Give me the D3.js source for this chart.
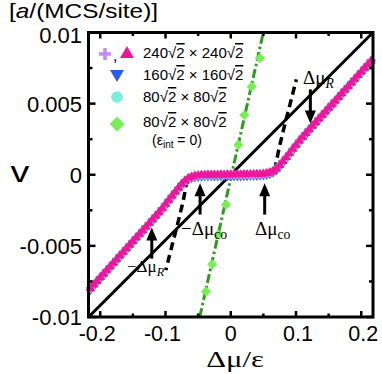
<!DOCTYPE html>
<html><head><meta charset="utf-8">
<script src="https://cdn.jsdelivr.net/npm/d3@7"></script>
<style>
body{margin:0;background:#fff;}
svg{display:block;}
text{font-family:"Liberation Sans",Arial,sans-serif;fill:#000;}
.serif{font-family:"Liberation Serif","Times New Roman",serif;}
</style></head><body>
<svg id="c" width="382" height="374"></svg>
<script>
// ---- data ----
const xTicksMajor = [-0.2, -0.1, 0, 0.1, 0.2];
const xTicksMinor = [-0.15, -0.05, 0.05, 0.15];
const yTicksMajor = [-0.01, -0.005, 0, 0.005, 0.01];
const yTicksMinor = [-0.0075, -0.0025, 0.0025, 0.0075];
const xTickLabels = ["-0.2", "-0.1", "0", "0.1", "0.2"];
const yTickLabels = ["-0.01", "-0.005", "0", "0.005", "0.01"];

const dmu = [-0.215,-0.21,-0.205,-0.2,-0.195,-0.19,-0.185,-0.18,-0.175,-0.17,-0.165,-0.16,-0.155,-0.15,-0.145,-0.14,-0.135,-0.13,-0.125,-0.12,-0.115,-0.11,-0.105,-0.1,-0.095,-0.09,-0.085,-0.08,-0.075,-0.07,-0.065,-0.06,-0.055,-0.05,-0.045,-0.04,-0.035,-0.03,-0.025,-0.02,-0.015,-0.01,-0.005,0,0.005,0.01,0.015,0.02,0.025,0.03,0.035,0.04,0.045,0.05,0.055,0.06,0.065,0.07,0.075,0.08,0.085,0.09,0.095,0.1,0.105,0.11,0.115,0.12,0.125,0.13,0.135,0.14,0.145,0.15,0.155,0.16,0.165,0.17,0.175,0.18,0.185,0.19,0.195,0.2,0.205,0.21,0.215];

const v240 = [-0.00800,-0.00774,-0.00749,-0.00723,-0.00698,-0.00672,-0.00647,-0.00621,-0.00596,-0.00570,-0.00545,-0.00519,-0.00494,-0.00469,-0.00443,-0.00418,-0.00393,-0.00367,-0.00342,-0.00316,-0.00290,-0.00264,-0.00237,-0.00208,-0.00179,-0.00150,-0.00121,-0.00093,-0.00066,-0.00042,-0.00025,-0.00015,-0.00009,-0.00006,-0.00004,-0.00003,-0.00002,-0.00002,-0.00001,-0.00001,0,-0.00001,0,0,0,0.00001,0,0.00001,0.00001,0.00002,0.00002,0.00003,0.00004,0.00006,0.00009,0.00015,0.00025,0.00042,0.00066,0.00093,0.00121,0.00150,0.00179,0.00208,0.00237,0.00264,0.00290,0.00316,0.00342,0.00367,0.00393,0.00418,0.00443,0.00469,0.00494,0.00519,0.00545,0.00570,0.00596,0.00621,0.00647,0.00672,0.00698,0.00723,0.00749,0.00774,0.00800];
const v240plus = [-0.00802,-0.00776,-0.00750,-0.00724,-0.00699,-0.00673,-0.00648,-0.00622,-0.00597,-0.00571,-0.00546,-0.00520,-0.00495,-0.00470,-0.00444,-0.00419,-0.00394,-0.00368,-0.00343,-0.00317,-0.00291,-0.00265,-0.00238,-0.00209,-0.00180,-0.00151,-0.00122,-0.00094,-0.00067,-0.00043,-0.00026,-0.00016,-0.00010,-0.00006,-0.00004,-0.00003,-0.00002,-0.00002,-0.00001,-0.00001,0,0,0,0,0,0,0,0.00001,0.00001,0.00002,0.00002,0.00003,0.00004,0.00006,0.00010,0.00016,0.00026,0.00043,0.00067,0.00094,0.00122,0.00151,0.00180,0.00209,0.00238,0.00265,0.00291,0.00317,0.00343,0.00368,0.00394,0.00419,0.00444,0.00470,0.00495,0.00520,0.00546,0.00571,0.00597,0.00622,0.00648,0.00673,0.00699,0.00724,0.00750,0.00776,0.00802];
const v160 = [-0.00806,-0.00780,-0.00755,-0.00729,-0.00704,-0.00678,-0.00653,-0.00627,-0.00602,-0.00576,-0.00551,-0.00525,-0.00500,-0.00475,-0.00449,-0.00424,-0.00399,-0.00373,-0.00348,-0.00322,-0.00296,-0.00270,-0.00243,-0.00214,-0.00185,-0.00156,-0.00127,-0.00099,-0.00072,-0.00047,-0.00030,-0.00019,-0.00013,-0.00010,-0.00008,-0.00007,-0.00006,-0.00006,-0.00006,-0.00006,-0.00006,-0.00006,-0.00006,-0.00006,-0.00006,-0.00006,-0.00006,-0.00005,-0.00005,-0.00004,-0.00004,-0.00003,-0.00002,0,0.00003,0.00009,0.00019,0.00036,0.00060,0.00087,0.00115,0.00144,0.00173,0.00202,0.00231,0.00258,0.00284,0.00310,0.00336,0.00361,0.00387,0.00412,0.00437,0.00463,0.00488,0.00513,0.00539,0.00564,0.00590,0.00615,0.00641,0.00666,0.00692,0.00717,0.00743,0.00768,0.00794];
const v80 = [-0.00803,-0.00777,-0.00752,-0.00726,-0.00701,-0.00675,-0.00650,-0.00624,-0.00599,-0.00573,-0.00548,-0.00522,-0.00497,-0.00472,-0.00446,-0.00421,-0.00396,-0.00370,-0.00345,-0.00319,-0.00293,-0.00267,-0.00240,-0.00211,-0.00182,-0.00153,-0.00124,-0.00096,-0.00069,-0.00045,-0.00028,-0.00017,-0.00011,-0.00008,-0.00006,-0.00005,-0.00004,-0.00004,-0.00003,-0.00003,-0.00003,-0.00003,-0.00003,-0.00003,-0.00003,-0.00002,-0.00002,-0.00002,-0.00002,0,0,0.00001,0.00002,0.00004,0.00007,0.00013,0.00023,0.00040,0.00063,0.00090,0.00118,0.00147,0.00176,0.00205,0.00234,0.00261,0.00288,0.00314,0.00340,0.00365,0.00391,0.00416,0.00441,0.00467,0.00492,0.00517,0.00543,0.00568,0.00594,0.00619,0.00645,0.00670,0.00696,0.00721,0.00747,0.00772,0.00798];

// eps_int = 0 (green diamonds) and its fitted line
const dmuNoInt = [-0.0379,-0.0283,-0.019,-0.0073,0.0021,0.0116,0.0208,0.0321,0.0448];
const vNoInt   = [-0.0082,-0.0063,-0.0042,-0.0021,0,0.0021,0.0042,0.0062,0.0082];
const dmuNoIntLine = [-0.0475,0.0499];
const vNoIntLine   = [-0.0100,0.0100];

// solid black reference line
const dmuRef = [-0.218, 0.218];
const vRef   = [-0.0100, 0.0100];

// dashed black curves
const dmuDashR = [0.0675,0.072,0.080,0.090,0.1005];
const vDashR   = [0.0003,0.0014,0.0030,0.0048,0.0067];
const dmuDashL = [-0.0670,-0.071,-0.079,-0.089,-0.0995];
const vDashL   = [-0.0003,-0.0014,-0.0030,-0.0048,-0.0067];

// arrows: [dmu, v tail, v tip]
const arrowsDmu  = [0.122, -0.121, -0.047, 0.052];
const arrowsTail = [0.0060, -0.0059, -0.0028, -0.0028];
const arrowsTip  = [0.0036, -0.0037, -0.0006, -0.0006];

// ---- drawing ----
const svg = d3.select("#c");
const L = 88.5, R = 373, T = 32.5, B = 317;
const x = d3.scaleLinear().domain([-0.218, 0.218]).range([L, R]);
const y = d3.scaleLinear().domain([-0.01, 0.01]).range([B, T]);

svg.append("clipPath").attr("id","clp").append("rect")
  .attr("x",L).attr("y",T).attr("width",R-L).attr("height",B-T);

const plot = svg.append("g").attr("clip-path","url(#clp)");

const line = d3.line().x(d=>x(d[0])).y(d=>y(d[1]));
const zip = (a,b)=>a.map((d,i)=>[d,b[i]]);

// solid black line
plot.append("path").attr("d", line(zip(dmuRef,vRef)))
  .attr("stroke","#000").attr("stroke-width",3).attr("fill","none");

// green dash-dot line
plot.append("path").attr("d", line(zip(dmuNoIntLine,vNoIntLine)))
  .attr("stroke","#2f9a1f").attr("stroke-width",3).attr("fill","none")
  .attr("stroke-dasharray","9,3,2.5,3");

// dashed black curves
[zip(dmuDashR,vDashR), zip(dmuDashL,vDashL)].forEach(pts=>{
  plot.append("path").attr("d", d3.line().curve(d3.curveMonotoneX).x(d=>x(d[0])).y(d=>y(d[1]))(pts))
    .attr("stroke","#000").attr("stroke-width",3.5).attr("fill","none")
    .attr("stroke-dasharray","8,5");
});

// green diamonds
const sym = (type,size)=>d3.symbol().type(type).size(size)();
plot.selectAll(".dia").data(zip(dmuNoInt,vNoInt)).join("path")
  .attr("d", sym(d3.symbolSquare, 52))
  .attr("transform", d=>`translate(${x(d[0])},${y(d[1])}) rotate(45)`)
  .attr("fill","#77ee55");

const g2 = svg.append("g");
// cyan circles
g2.selectAll(".cir").data(zip(dmu,v80)).join("circle")
  .attr("cx",d=>x(d[0])).attr("cy",d=>y(d[1])).attr("r",4)
  .attr("fill","#77eedd");
// blue down triangles
const triDown = "M-4.8,-3 L4.8,-3 L0,5 Z";
const triUp = "M-4.8,3 L4.8,3 L0,-5 Z";
g2.selectAll(".td").data(zip(dmu,v160)).join("path")
  .attr("d",triDown).attr("transform",d=>`translate(${x(d[0])},${y(d[1])+0.8})`)
  .attr("fill","#2a5cf5");
// violet plus
g2.selectAll(".pl").data(zip(dmu,v240plus)).join("path")
  .attr("d","M-4.5,0 H4.5 M0,-4.5 V4.5").attr("transform",d=>`translate(${x(d[0])},${y(d[1])})`)
  .attr("stroke","#c58cf0").attr("stroke-width",2.6).attr("fill","none");
// magenta up triangles
g2.selectAll(".tu").data(zip(dmu,v240)).join("path")
  .attr("d",triUp).attr("transform",d=>`translate(${x(d[0])},${y(d[1])-0.5})`)
  .attr("fill","#f0169a");

// frame
svg.append("rect").attr("x",L).attr("y",T).attr("width",R-L).attr("height",B-T)
  .attr("fill","none").attr("stroke","#000").attr("stroke-width",3);

// ticks (inward, all sides)
const tk = svg.append("g").attr("stroke","#000").attr("stroke-width",2.5);
xTicksMajor.concat(xTicksMinor).forEach(t=>{
  const len = xTicksMajor.includes(t)?6:3.5;
  tk.append("line").attr("x1",x(t)).attr("x2",x(t)).attr("y1",B).attr("y2",B-len);
  tk.append("line").attr("x1",x(t)).attr("x2",x(t)).attr("y1",T).attr("y2",T+len);
});
yTicksMajor.concat(yTicksMinor).forEach(t=>{
  const len = yTicksMajor.includes(t)?7:4;
  tk.append("line").attr("y1",y(t)).attr("y2",y(t)).attr("x1",L).attr("x2",L+len);
  tk.append("line").attr("y1",y(t)).attr("y2",y(t)).attr("x1",R).attr("x2",R-len);
});

// tick labels
xTicksMajor.forEach((t,i)=>{
  svg.append("text").attr("x",x(t) - (t<0?3:0) + (t>0?2:0)).attr("y",341).attr("text-anchor","middle")
    .attr("font-size",21.5).text(xTickLabels[i]);
});
yTicksMajor.forEach((t,i)=>{
  svg.append("text").attr("x",82).attr("y",y(t)+ (t===0.01?10:8.3)).attr("text-anchor","end")
    .attr("font-size",22).text(yTickLabels[i]);
});

// axis titles
svg.append("text").attr("class","serif").attr("text-anchor","middle")
  .attr("transform","translate(235,367) scale(1.28,1)")
  .attr("font-size",24).text("Δμ/ε");
svg.append("text").attr("text-anchor","middle")
  .attr("transform","translate(20,182) scale(1.3,1)")
  .attr("font-size",29).text("v");
const tl = svg.append("text").attr("transform","translate(9,18.4) scale(1.22,1)").attr("font-size",20);
tl.append("tspan").text("[");
tl.append("tspan").attr("font-style","italic").text("a");
tl.append("tspan").text("/(MCS/site)]");

// legend
const leg = svg.append("g");
leg.append("path").attr("d","M-6,0 H6 M0,-6 V6").attr("transform","translate(105,54)")
  .attr("stroke","#c58cf0").attr("stroke-width",3.5);
leg.append("text").attr("x",113).attr("y",61).attr("font-size",16).text(",");
leg.append("path").attr("d","M-7,5 L7,5 L0,-7 Z").attr("transform","translate(127,53)").attr("fill","#f0169a");
leg.append("path").attr("d","M-7,-5 L7,-5 L0,7 Z").attr("transform","translate(117,75)").attr("fill","#2a5cf5");
leg.append("circle").attr("cx",117).attr("cy",97).attr("r",5.8).attr("fill","#77eedd");
leg.append("path").attr("d",sym(d3.symbolSquare,110)).attr("transform","translate(117,124) rotate(45)").attr("fill","#77ee55");

function sizeLabel(xp, yp, n){
  const t = leg.append("text").attr("x",xp).attr("y",yp).attr("font-size",15);
  t.append("tspan").text(n + "√");
  t.append("tspan").attr("text-decoration","overline").text("2");
  t.append("tspan").text(" × " + n + "√");
  t.append("tspan").attr("text-decoration","overline").text("2");
}
sizeLabel(143,58,"240");
sizeLabel(143,80,"160");
sizeLabel(143,102,"80");
sizeLabel(143,127,"80");
const ei = leg.append("text").attr("x",152).attr("y",145).attr("font-size",14);
ei.append("tspan").text("(ε");
ei.append("tspan").attr("font-size",10).attr("dy",3).text("int");
ei.append("tspan").attr("dy",-3).text(" = 0)");

// arrows
arrowsDmu.forEach((d,i)=>{
  const xa = x(d), y0 = y(arrowsTail[i]), y1 = y(arrowsTip[i]);
  const dir = y1 > y0 ? 1 : -1;
  svg.append("line").attr("x1",xa).attr("x2",xa).attr("y1",y0).attr("y2",y1 - dir*10)
    .attr("stroke","#000").attr("stroke-width",3);
  svg.append("path").attr("d",`M${xa-5.5},${y1-dir*13} L${xa+5.5},${y1-dir*13} L${xa},${y1} Z`).attr("fill","#000");
});

// arrow labels
function dmuLabel(xp, yp, pre, sub, italicSub, fs){
  const t = svg.append("text").attr("class","serif").attr("x",xp).attr("y",yp).attr("font-size",fs);
  t.append("tspan").text(pre);
  t.append("tspan").attr("font-size",fs*0.72).attr("dy",4).attr("font-style",italicSub?"italic":"normal").text(sub);
}
dmuLabel(303,84,"Δμ","R",true,19);
dmuLabel(127,272,"−Δμ","R",true,17);
dmuLabel(181,235,"−Δμ","co",false,19);
dmuLabel(255,235,"Δμ","co",false,19);
</script>
</body></html>
